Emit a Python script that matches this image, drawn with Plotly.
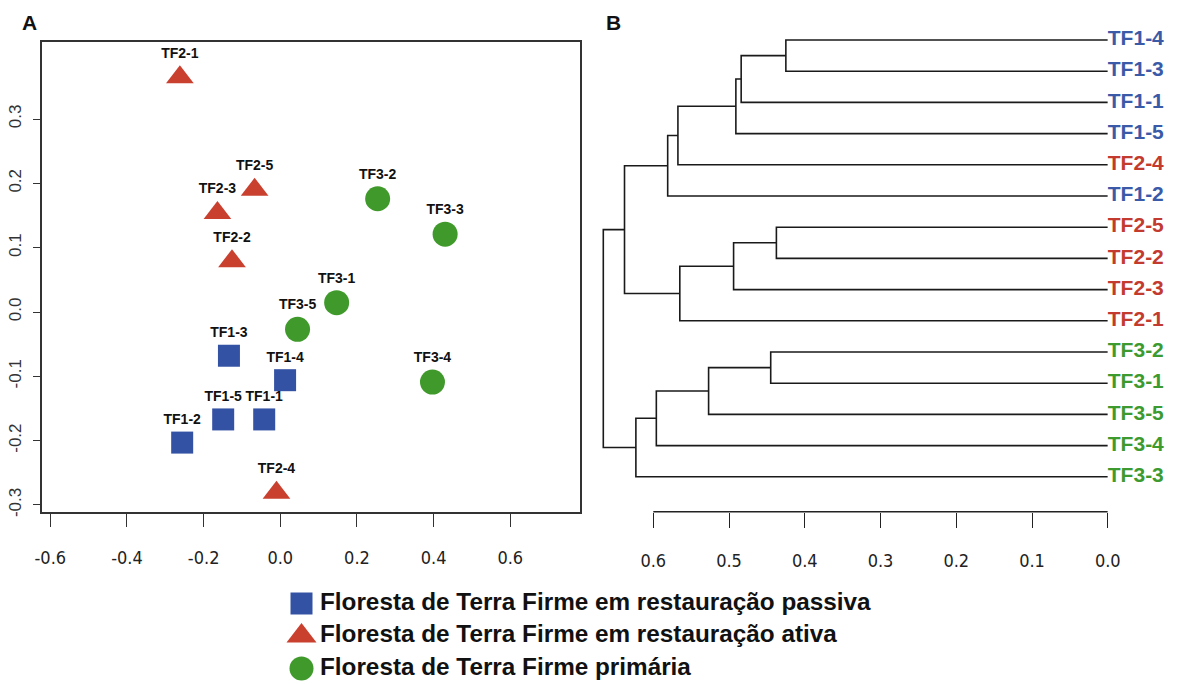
import plotly.graph_objects as go

# ---------------- data ----------------
# Panel A: ordination scores
passiva_labels = ["TF1-1", "TF1-2", "TF1-3", "TF1-4", "TF1-5"]
passiva_x = [-0.042, -0.256, -0.134, 0.0125, -0.149]
passiva_y = [-0.167, -0.203, -0.068, -0.106, -0.167]

ativa_labels = ["TF2-1", "TF2-2", "TF2-3", "TF2-4", "TF2-5"]
ativa_x = [-0.262, -0.126, -0.164, -0.010, -0.067]
ativa_y = [0.365, 0.079, 0.154, -0.281, 0.190]

primaria_labels = ["TF3-1", "TF3-2", "TF3-3", "TF3-4", "TF3-5"]
primaria_x = [0.147, 0.254, 0.430, 0.397, 0.045]
primaria_y = [0.0145, 0.176, 0.121, -0.109, -0.027]

group_names = [
    "Floresta de Terra Firme em restauração passiva",
    "Floresta de Terra Firme em restauração ativa",
    "Floresta de Terra Firme primária",
]

xA_ticks = [-0.6, -0.4, -0.2, 0.0, 0.2, 0.4, 0.6]
xA_ticktext = ["-0.6", "-0.4", "-0.2", "0.0", "0.2", "0.4", "0.6"]
yA_ticks = [-0.3, -0.2, -0.1, 0.0, 0.1, 0.2, 0.3]
yA_ticktext = ["-0.3", "-0.2", "-0.1", "0.0", "0.1", "0.2", "0.3"]

# Panel B: dendrogram (leaf order top -> bottom) and merges
leaves = ["TF1-4", "TF1-3", "TF1-1", "TF1-5", "TF2-4", "TF1-2", "TF2-5",
          "TF2-2", "TF2-3", "TF2-1", "TF3-2", "TF3-1", "TF3-5", "TF3-4", "TF3-3"]
leaf_group = [0, 0, 0, 0, 1, 0, 1, 1, 1, 1, 2, 2, 2, 2, 2]
merge_left = ["TF1-4", "TF2-5", "TF3-2", "m1", "m4", "m2", "m3", "m6", "m5",
              "m9", "m7", "m11", "m10", "m13"]
merge_right = ["TF1-3", "TF2-2", "TF3-1", "TF1-1", "TF1-5", "TF2-3", "TF3-5",
               "TF2-1", "TF2-4", "TF1-2", "TF3-4", "TF3-3", "m8", "m12"]
merge_height = [0.425, 0.4375, 0.445, 0.484, 0.491, 0.494, 0.527, 0.565,
                0.5675, 0.581, 0.596, 0.623, 0.638, 0.666]

xB_ticks = [0.6, 0.5, 0.4, 0.3, 0.2, 0.1, 0.0]
xB_ticktext = ["0.6", "0.5", "0.4", "0.3", "0.2", "0.1", "0.0"]

# ---------------- styles ----------------
W, H = 1184, 684
BLUE = "#3452a4"
RED = "#c9402f"
GREEN = "#3f9a2b"
TXT_BLUE = "#3a5aa8"
TXT_RED = "#c33a2e"
TXT_GREEN = "#3d9a2f"
group_colors = [BLUE, RED, GREEN]
group_txt = [TXT_BLUE, TXT_RED, TXT_GREEN]
group_symbols = ["square", "triangle-up", "circle"]

SANS = "Liberation Sans, Arial, sans-serif"
LABEL_FONT = dict(family=SANS, size=14, color="#111")
NARROW = "Liberation Sans Narrow, Arial Narrow, DejaVu Sans Condensed, sans-serif"


def px_x(p):
    return p / W


def px_y(p):
    return 1 - p / H


fig = go.Figure()

# ---- Panel A scatter ----
for lab, xs, ys, col, sym, sz in [
    (passiva_labels, passiva_x, passiva_y, BLUE, "square", 22),
    (ativa_labels, ativa_x, ativa_y, RED, "triangle-up", 24),
    (primaria_labels, primaria_x, primaria_y, GREEN, "circle", 25),
]:
    fig.add_trace(go.Scatter(
        x=xs, y=ys, mode="markers+text", text=["<b>%s</b>" % t for t in lab],
        textposition="top center", textfont=LABEL_FONT,
        marker=dict(symbol=sym, size=sz, color=col, opacity=1, line=dict(width=0)),
        xaxis="x", yaxis="y", showlegend=False, cliponaxis=False,
    ))

# ---- Panel B dendrogram ----
pos = {name: (i, 0.0) for i, name in enumerate(leaves)}
seg_x, seg_y = [], []
for k, (a, b, h) in enumerate(zip(merge_left, merge_right, merge_height)):
    ya, ha = pos[a]
    yb, hb = pos[b]
    seg_x += [ha, h, h, hb, None]
    seg_y += [ya, ya, yb, yb, None]
    pos["m%d" % (k + 1)] = ((ya + yb) / 2.0, h)

fig.add_trace(go.Scatter(
    x=seg_x, y=seg_y, mode="lines", line=dict(color="#1a1a1a", width=1.6),
    xaxis="x2", yaxis="y2", showlegend=False, hoverinfo="skip",
))
fig.add_trace(go.Scatter(
    x=[0.0] * len(leaves), y=list(range(len(leaves))), mode="text",
    text=["<b>%s</b>" % t for t in leaves], textposition="middle right",
    textfont=dict(family=SANS, size=21,
                  color=[group_txt[g] for g in leaf_group]),
    xaxis="x2", yaxis="y2", showlegend=False, cliponaxis=False,
))

# ---- Legend (drawn as a small scatter: symbols + names) ----
legend_rows = [0, 1, 2]
fig.add_trace(go.Scatter(
    x=[0] * 3, y=legend_rows, mode="markers",
    marker=dict(symbol=group_symbols, size=[22, 26, 24], color=group_colors,
                opacity=1, line=dict(width=0)),
    xaxis="x3", yaxis="y3", showlegend=False, cliponaxis=False,
))
fig.add_trace(go.Scatter(
    x=[0.86] * 3, y=legend_rows, mode="text",
    text=["<b>%s</b>" % g for g in group_names], textposition="middle right",
    textfont=dict(family=SANS, size=24.3, color="#111"),
    xaxis="x3", yaxis="y3", showlegend=False, cliponaxis=False,
))

# ---------------- axes ----------------
axA_left, axA_right = 42, 580
axA_top, axA_bot = 41.7, 511.7
x0A, sxA = 280.3, 383.3
y0A, syA = 312.0, 643.3
axis_font = dict(family=NARROW, size=18, color="#222")

fig.update_layout(
    xaxis=dict(
        domain=[px_x(axA_left), px_x(axA_right)],
        range=[(axA_left - x0A) / sxA, (axA_right - x0A) / sxA],
        tickvals=xA_ticks, ticktext=xA_ticktext, ticks="outside", ticklen=14,
        tickwidth=1.3, tickcolor="#333", showline=True, mirror=True,
        linecolor="#333", linewidth=1.5, showgrid=False, zeroline=False,
        tickfont=axis_font, ticklabelstandoff=15, anchor="y", automargin=False,
    ),
    yaxis=dict(
        domain=[px_y(axA_bot), px_y(axA_top)],
        range=[(y0A - axA_bot) / syA, (y0A - axA_top) / syA],
        tickvals=yA_ticks, ticktext=yA_ticktext, ticks="outside", ticklen=7,
        tickwidth=1.3, tickcolor="#333", showline=True, mirror=True,
        linecolor="#333", linewidth=1.5, showgrid=False, zeroline=False,
        tickangle=-90, tickfont=dict(family=SANS, size=17, color="#333"),
        ticklabelstandoff=5, anchor="x", automargin=False,
    ),
)

B_left, B_right = 598, 1107.8
x0B, sxB = 1107.8, 757.5
B_top, B_bot = 20, 511.7
leaf0, leafsp = 40.0, 31.2
fig.update_layout(
    xaxis2=dict(
        domain=[px_x(B_left), px_x(B_right)],
        range=[(x0B - B_left) / sxB, (x0B - B_right) / sxB],
        tickvals=xB_ticks, ticktext=xB_ticktext, ticks="outside", ticklen=15,
        tickwidth=1.4, tickcolor="#222", showline=False, showgrid=False,
        zeroline=False, tickfont=axis_font, ticklabelstandoff=18, anchor="y2",
        automargin=False,
    ),
    yaxis2=dict(
        domain=[px_y(B_bot), px_y(B_top)],
        range=[(B_bot - leaf0) / leafsp, (B_top - leaf0) / leafsp],
        visible=False, anchor="x2", automargin=False,
    ),
    xaxis3=dict(domain=[px_x(280), px_x(323)], range=[-1, 1], visible=False,
                anchor="y3", automargin=False),
    yaxis3=dict(domain=[0, px_y(587)], range=[(684 - 603.5) / 32.5, (587 - 603.5) / 32.5],
                visible=False, anchor="x3", automargin=False),
)

fig.add_shape(type="line", xref="x2", yref="y2 domain",
              x0=xB_ticks[0], x1=xB_ticks[-1], y0=0, y1=0,
              line=dict(color="#222", width=1.5))

for lbl, cx in [("A", 29), ("B", 613.5)]:
    fig.add_annotation(text="<b>%s</b>" % lbl, x=px_x(cx), y=px_y(22.5),
                       xref="paper", yref="paper", xanchor="center",
                       yanchor="middle", showarrow=False,
                       font=dict(family=SANS, size=21, color="#111"))

fig.update_layout(
    width=W, height=H, autosize=False,
    margin=dict(l=0, r=0, t=0, b=0, pad=0, autoexpand=False),
    paper_bgcolor="white", plot_bgcolor="white", hovermode=False,
)

fig.write_html("out.html")
